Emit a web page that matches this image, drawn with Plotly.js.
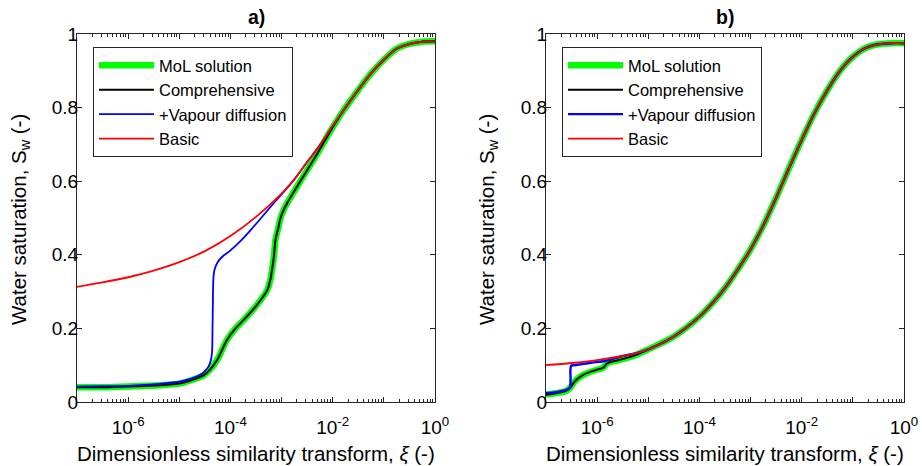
<!DOCTYPE html>
<html><head><meta charset="utf-8">
<script src="https://cdn.plot.ly/plotly-3.0.1.min.js"></script>
<style>html,body{margin:0;padding:0;background:#fff}#chart{width:922px;height:466px}</style>
</head><body><div id="chart"></div>
<script>
// ---- Data (x given as log10 of xi) ----
// Panel a)
const molA_logXi   = [-7,-6.5,-6,-5.5,-5,-4.75,-4.52,-4.4,-4.26,-4.07,-3.9,-3.74,-3.48,-3.28,-3.22,-3.18,-3.15,-3.12,-3.06,-3.02,-2.95,-2.85,-2.7,-2.5,-2.3,-2.05,-1.79,-1.5,-1.25,-1,-0.75,-0.5,-0.25,0];
const molA_Sw      = [0.04,0.04,0.042,0.045,0.05,0.06,0.073,0.088,0.114,0.168,0.2,0.223,0.264,0.304,0.332,0.365,0.395,0.44,0.475,0.5,0.525,0.55,0.585,0.63,0.675,0.735,0.792,0.848,0.893,0.93,0.96,0.973,0.979,0.98];
const compA_logXi  = [-7,-6.5,-6,-5.5,-5,-4.75,-4.52,-4.4,-4.26,-4.07,-3.9,-3.74,-3.48,-3.28,-3.22,-3.18,-3.15,-3.12,-3.06,-3.02,-2.95,-2.85,-2.7,-2.5,-2.3,-2.05,-1.79,-1.5,-1.25,-1,-0.75,-0.5,-0.25,0];
const compA_Sw     = [0.04,0.04,0.042,0.045,0.05,0.06,0.073,0.088,0.114,0.168,0.2,0.223,0.264,0.304,0.332,0.365,0.395,0.44,0.475,0.5,0.525,0.55,0.585,0.63,0.675,0.735,0.792,0.848,0.893,0.93,0.96,0.973,0.979,0.98];
const vapA_logXi   = [-7,-6.5,-6,-5.5,-5,-4.75,-4.59,-4.5,-4.43,-4.38,-4.36,-4.35,-4.34,-4.33,-4.31,-4.25,-4.15,-4,-3.8,-3.6,-3.4,-3.2,-3,-2.75,-2.5,-2.25,-2,-1.75,-1.5,-1.25,-1,-0.75,-0.5,-0.25,0];
const vapA_Sw      = [0.042,0.043,0.044,0.048,0.055,0.064,0.074,0.084,0.096,0.115,0.135,0.2,0.3,0.342,0.36,0.38,0.396,0.412,0.438,0.468,0.5,0.533,0.564,0.605,0.652,0.698,0.75,0.8,0.848,0.893,0.93,0.96,0.973,0.979,0.98];
const basicA_logXi = [-7,-6.5,-6,-5.5,-5,-4.5,-4,-3.5,-3,-2.75,-2.5,-2.25,-2,-1.75,-1.5,-1.25,-1,-0.75,-0.5,-0.25,0];
const basicA_Sw    = [0.313,0.325,0.339,0.357,0.38,0.41,0.451,0.503,0.566,0.605,0.652,0.698,0.75,0.8,0.848,0.893,0.93,0.96,0.973,0.979,0.98];
// Panel b)
const molB_logXi   = [-7,-6.8,-6.61,-6.54,-6.47,-6.41,-6.28,-6.15,-6.02,-5.9,-5.86,-5.82,-5.76,-5.57,-5.24,-5,-4.5,-4,-3.75,-3.5,-3.25,-3,-2.75,-2.5,-2.25,-2,-1.75,-1.5,-1.25,-1,-0.75,-0.5,-0.25,0];
const molB_Sw      = [0.02,0.024,0.03,0.037,0.05,0.06,0.073,0.081,0.087,0.092,0.096,0.103,0.108,0.114,0.128,0.143,0.178,0.232,0.268,0.31,0.36,0.415,0.48,0.555,0.635,0.712,0.785,0.847,0.9,0.938,0.962,0.972,0.975,0.975];
const compB_logXi  = [-7,-6.8,-6.61,-6.54,-6.47,-6.41,-6.28,-6.15,-6.02,-5.9,-5.86,-5.82,-5.76,-5.57,-5.24,-5,-4.5,-4,-3.75,-3.5,-3.25,-3,-2.75,-2.5,-2.25,-2,-1.75,-1.5,-1.25,-1,-0.75,-0.5,-0.25,0];
const compB_Sw     = [0.02,0.024,0.03,0.037,0.05,0.06,0.073,0.081,0.087,0.092,0.096,0.103,0.108,0.114,0.128,0.143,0.178,0.232,0.268,0.31,0.36,0.415,0.48,0.555,0.635,0.712,0.785,0.847,0.9,0.938,0.962,0.972,0.975,0.975];
const vapB_logXi   = [-7,-6.8,-6.61,-6.53,-6.52,-6.51,-6.45,-6.3,-6.1,-5.83,-5.5,-5.24,-5,-4.5,-4,-3.75,-3.5,-3.25,-3,-2.75,-2.5,-2.25,-2,-1.75,-1.5,-1.25,-1,-0.75,-0.5,-0.25,0];
const vapB_Sw      = [0.024,0.027,0.033,0.04,0.06,0.098,0.1,0.103,0.107,0.112,0.125,0.132,0.143,0.178,0.232,0.268,0.31,0.36,0.415,0.48,0.555,0.635,0.712,0.785,0.847,0.9,0.938,0.962,0.972,0.975,0.975];
const basicB_logXi = [-7,-6.5,-6,-5.5,-5.24,-5,-4.5,-4,-3.75,-3.5,-3.25,-3,-2.75,-2.5,-2.25,-2,-1.75,-1.5,-1.25,-1,-0.75,-0.5,-0.25,0];
const basicB_Sw    = [0.1,0.106,0.114,0.125,0.132,0.143,0.178,0.232,0.268,0.31,0.36,0.415,0.48,0.555,0.635,0.712,0.785,0.847,0.9,0.938,0.962,0.972,0.975,0.975];

const seriesNames = ['MoL solution','Comprehensive','+Vapour diffusion','Basic'];
const majorTickLabels = ['','10<sup>-6</sup>','','10<sup>-4</sup>','','10<sup>-2</sup>','','10<sup>0</sup>'];
const majorDecades = [-7,-6,-5,-4,-3,-2,-1,0];
const yTicks = [0,0.2,0.4,0.6,0.8,1];
const yTickLabels = ['0','0.2','0.4','0.6','0.8','1'];
const panelTitles = ['a)','b)'];
const xTitle = 'Dimensionless similarity transform, <i>ξ</i> (-)';
const yTitle = 'Water saturation, S<sub>w</sub> (-)';

// ---- Build ----
const pw = v => v.map(e => Math.pow(10, e));
const styles = [
  {color:'#00ff00', width:6.5},
  {color:'#000000', width:2},
  {color:'#0000ff', width:1.8},
  {color:'#ff0000', width:1.8}
];
function tr(lx, y, i, xa, ya, leg, w){
  return {x: pw(lx), y: y, type:'scatter', mode:'lines', name: seriesNames[i],
    line:{color:styles[i].color, width: w || styles[i].width, shape:'spline', smoothing:0.9},
    xaxis: xa, yaxis: ya, legend: leg, hoverinfo:'skip'};
}
const data = [
  tr(molA_logXi, molA_Sw, 0, 'x', 'y', 'legend'),
  tr(compA_logXi, compA_Sw, 1, 'x', 'y', 'legend'),
  tr(vapA_logXi, vapA_Sw, 2, 'x', 'y', 'legend'),
  tr(basicA_logXi, basicA_Sw, 3, 'x', 'y', 'legend'),
  tr(molB_logXi, molB_Sw, 0, 'x2', 'y2', 'legend2'),
  tr(compB_logXi, compB_Sw, 1, 'x2', 'y2', 'legend2'),
  tr(vapB_logXi, vapB_Sw, 2, 'x2', 'y2', 'legend2', 2.4),
  tr(basicB_logXi, basicB_Sw, 3, 'x2', 'y2', 'legend2')
];
const minorVals = [];
for (let d = -7; d < 0; d++) for (let k = 2; k <= 9; k++) minorVals.push(k * Math.pow(10, d));

const W = 922, H = 466;
const axCol = '#262626';
const FONT = 'Liberation Sans, Arial, Helvetica, sans-serif';
function xAxis(l, r, anchor){
  return {type:'log', range:[-7,0], domain:[l/W, r/W], anchor: anchor,
    showline:true, linecolor:axCol, linewidth:1, mirror:'ticks',
    ticks:'inside', ticklen:5, tickwidth:1, tickcolor:axCol,
    tickmode:'array', tickvals: pw(majorDecades), ticktext: majorTickLabels,
    minor:{ticks:'inside', ticklen:3, tickwidth:1, tickcolor:axCol, tickmode:'array', tickvals:minorVals, showgrid:false},
    showgrid:false, zeroline:false, automargin:false, ticklabelstandoff:8,
    tickfont:{size:19, color:'#000', family:FONT}
  };
}
function yAxis(anchor){
  return {range:[0,1], domain:[(H-402)/H, (H-34)/H], anchor: anchor,
    showline:true, linecolor:axCol, linewidth:1, mirror:'ticks',
    ticks:'inside', ticklen:5, tickwidth:1, tickcolor:axCol,
    tickmode:'array', tickvals:yTicks, ticktext:yTickLabels,
    showgrid:false, zeroline:false, automargin:false, ticklabelstandoff:-6,
    tickfont:{size:19, color:'#000', family:FONT}
  };
}
function legend(xpx){
  return {x: xpx/W, y: 1 - 47/H, xanchor:'left', yanchor:'top',
    bgcolor:'#ffffff', bordercolor:axCol, borderwidth:1, itemwidth:55,
    font:{size:16.5, color:'#000', family:FONT}, tracegroupgap:0};
}
function ann(text, xpx, ypx, size, angle){
  return {text: text, x: xpx/W, y: 1 - ypx/H, xref:'paper', yref:'paper',
    xanchor:'center', yanchor:'middle', showarrow:false, textangle: angle || 0,
    font:{size: size, color:'#000', family:FONT}};
}
const layout = {
  width: W, height: H, margin:{l:0, r:0, t:0, b:0},
  paper_bgcolor:'#fff', plot_bgcolor:'#fff', showlegend:true,
  font:{family:FONT, color:'#000'},
  xaxis: xAxis(77, 435, 'y'), yaxis: yAxis('x'),
  xaxis2: xAxis(546, 904, 'y2'), yaxis2: yAxis('x2'),
  legend: legend(93), legend2: legend(562),
  annotations: [
    ann('<b>'+panelTitles[0]+'</b>', 256, 17, 19.5),
    ann('<b>'+panelTitles[1]+'</b>', 725, 17, 19.5),
    ann(xTitle, 256, 453, 20.5),
    ann(xTitle, 725, 453, 20.5),
    ann(yTitle, 20, 220, 20.5, -90),
    ann(yTitle, 488, 220, 20.5, -90)
  ]
};
Plotly.newPlot('chart', data, layout, {staticPlot:true, displayModeBar:false});
</script></body></html>
